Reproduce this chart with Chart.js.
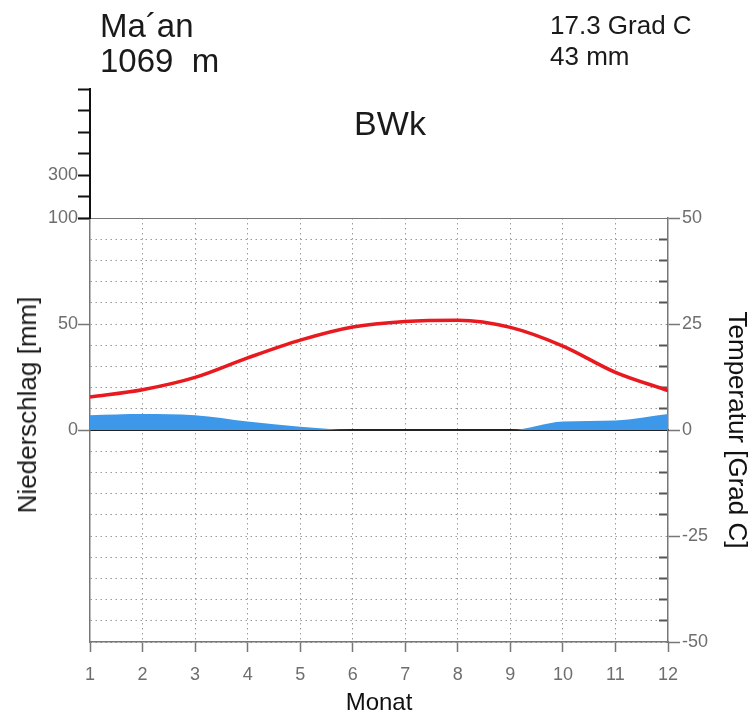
<!DOCTYPE html>
<html>
<head>
<meta charset="utf-8">
<script src="https://cdn.jsdelivr.net/npm/chart.js@4.4.1/dist/chart.umd.min.js"></script>
<style>
  body { margin: 0; background: #fff; }
  #wrap { position: relative; width: 752px; height: 715px; font-family: 'Liberation Sans', Arial, sans-serif; }
  canvas { position: absolute; left: 0; top: 0; }
  .txt { position: absolute; white-space: pre; line-height: 1; color: #1a1a1a; }
</style>
</head>
<body>
<div id="wrap">
  <canvas id="mainChart" width="752" height="715"></canvas>
  <canvas id="topAxis" width="752" height="230"></canvas>
  <div class="txt" style="left:100px; top:9px; font-size:33px;">Ma´an</div>
  <div class="txt" style="left:100px; top:44px; font-size:33px;">1069  m</div>
  <div class="txt" style="left:550px; top:12px; font-size:26px;">17.3 Grad C</div>
  <div class="txt" style="left:550px; top:43px; font-size:26px;">43 mm</div>
  <div class="txt" style="left:390px; top:106px; font-size:34px; transform:translateX(-50%);">BWk</div>
  <div class="txt" style="left:27px; top:405px; font-size:26px; transform:translate(-50%,-50%) rotate(-90deg);">Niederschlag [mm]</div>
</div>
<script>
// Monate und Klimawerte
let monate = [1, 2, 3, 4, 5, 6, 7, 8, 9, 10, 11, 12];
let temperatur = [7.8, 9.5, 12.4, 17.0, 21.2, 24.3, 25.6, 25.9, 24.2, 19.8, 13.6, 9.3];
let niederschlag = [7, 7.5, 7, 4, 1.5, 0, 0, 0, 0, 4, 4.5, 7.5];

// beschriftete Ticks
let mmTicks = [0, 50, 100];
let mmObenTicks = [300];

Chart.defaults.font.family = "'Liberation Sans', Arial, sans-serif";
Chart.defaults.font.size = 18;

const grau = '#777';
const punktGrau = '#9a9a9a';
const unsichtbar = 'rgba(0,0,0,0)';

let mainChart = new Chart(document.getElementById('mainChart'), {
    type: 'line',
    data: {
        datasets: [
            {
                label: 'Niederschlag',
                data: monate.map((m, i) => ({ x: m, y: niederschlag[i] })),
                yAxisID: 'y',
                fill: 'origin',
                backgroundColor: '#3d98e9',
                borderWidth: 0,
                pointRadius: 0,
                cubicInterpolationMode: 'monotone'
            },
            {
                label: 'Temperatur',
                data: monate.map((m, i) => ({ x: m, y: temperatur[i] })),
                yAxisID: 'yT',
                borderColor: '#e8191f',
                borderWidth: 3.5,
                pointRadius: 0,
                fill: false,
                cubicInterpolationMode: 'monotone'
            }
        ]
    },
    options: {
        responsive: false,
        animation: false,
        layout: { padding: { top: 218, left: 0, right: 0, bottom: 0 } },
        plugins: {
            legend: { display: false },
            tooltip: { enabled: false }
        },
        scales: {
            x: {
                type: 'linear',
                position: 'bottom',
                min: 1,
                max: 12,
                ticks: { stepSize: 1, autoSkip: false, color: '#6e6e6e', padding: 12 },
                grid: {
                    color: c => (c.tick && (c.tick.value === 1 || c.tick.value === 12)) ? unsichtbar : punktGrau,
                    tickLength: 10,
                    tickColor: grau,
                    tickWidth: 1.5
                },
                border: { color: grau, width: 1.5, dash: [1.5, 3.5] },
                title: { display: true, text: 'Monat', color: '#111', font: { size: 24, lineHeight: 1 }, padding: 0 },
                afterFit: s => { s.height = 73; }
            },
            // Nulllinie ueber der Flaeche
            xNull: {
                type: 'linear',
                position: { y: 0 },
                min: 1,
                max: 12,
                z: 1,
                ticks: { display: false },
                grid: { display: false },
                border: { color: '#222', width: 2 }
            },
            y: {
                position: 'left',
                min: -100,
                max: 100,
                ticks: {
                    stepSize: 10,
                    autoSkip: false,
                    color: '#6e6e6e',
                    padding: 0,
                    callback: v => mmTicks.includes(v) ? v : ''
                },
                grid: {
                    color: c => (c.tick && c.tick.value === 100) ? grau : punktGrau,
                    tickLength: 12,
                    tickColor: c => (c.tick && mmTicks.includes(c.tick.value)) ? grau : unsichtbar,
                    tickWidth: 1.5
                },
                border: {
                    color: grau,
                    width: 1.5,
                    dash: c => (c.tick && c.tick.value === 100) ? [] : [1.5, 3.5]
                },
                afterFit: s => { s.width = 90; }
            },
            yTmin: {
                position: 'right',
                weight: 0,
                min: -50,
                max: 50,
                ticks: { display: false, stepSize: 5, autoSkip: false },
                grid: {
                    drawOnChartArea: false,
                    tickLength: -9,
                    tickColor: c => (c.tick && c.tick.value % 25 === 0) ? unsichtbar : '#555',
                    tickWidth: 2
                },
                border: { display: false },
                afterFit: s => { s.width = 0; }
            },
            yT: {
                position: 'right',
                weight: 1,
                min: -50,
                max: 50,
                ticks: { stepSize: 25, autoSkip: false, color: '#6e6e6e', padding: 2 },
                grid: { drawOnChartArea: false, tickLength: 12, tickColor: grau, tickWidth: 1.5 },
                border: { color: grau, width: 1.5 },
                title: {
                    display: true,
                    text: 'Temperatur [Grad C]',
                    color: '#111',
                    font: { size: 26, lineHeight: 1.2 },
                    padding: 0
                },
                afterFit: s => { s.width = 84; }
            }
        }
    }
});

// gestauchte Niederschlagsachse ueber 100 mm
let topAxis = new Chart(document.getElementById('topAxis'), {
    type: 'line',
    data: { datasets: [] },
    options: {
        responsive: false,
        animation: false,
        layout: { padding: { top: 89, bottom: 12, right: 84 } },
        plugins: {
            legend: { display: false },
            tooltip: { enabled: false }
        },
        scales: {
            x: { type: 'linear', display: false, min: 1, max: 12 },
            yOben: {
                position: 'left',
                min: 100,
                max: 700,
                ticks: {
                    stepSize: 100,
                    autoSkip: false,
                    color: '#6e6e6e',
                    padding: 0,
                    callback: v => mmObenTicks.includes(v) ? v : ''
                },
                grid: { drawOnChartArea: false, tickLength: 12, tickColor: '#111', tickWidth: 2 },
                border: { color: '#111', width: 2 },
                afterFit: s => { s.width = 90; }
            }
        }
    }
});
</script>
</body>
</html>
